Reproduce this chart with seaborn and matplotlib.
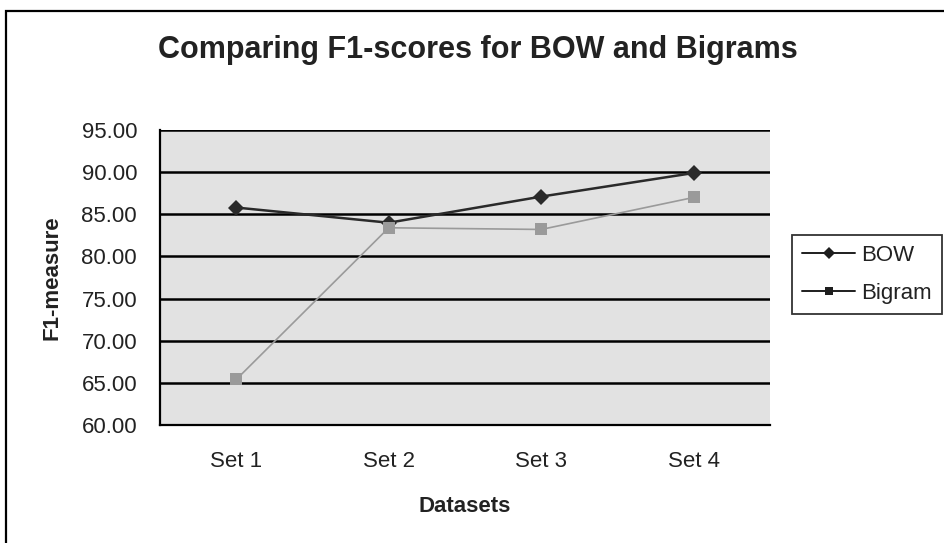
import matplotlib
matplotlib.use("Agg")
import matplotlib.pyplot as plt
from matplotlib.patches import Rectangle
import seaborn as sns
import pandas as pd
import numpy as np

categories = ["Set 1", "Set 2", "Set 3", "Set 4"]
bow = [85.8, 84.0, 87.1, 89.9]
bigram = [65.4, 83.4, 83.2, 87.0]
y_ticks = [60, 65, 70, 75, 80, 85, 90, 95]

df = pd.DataFrame({
    "pos": list(range(len(categories))) * 2,
    "score": bow + bigram,
    "series": ["BOW"] * len(bow) + ["Bigram"] * len(bigram),
})

sns.set_theme(style="white")
plt.rcParams["font.family"] = ["Liberation Sans", "DejaVu Sans"]

fig = plt.figure(figsize=(9.44, 5.43), dpi=100)
ax = fig.add_axes([160 / 944, 1 - 425 / 543, 610 / 944, 295 / 543])
ax.set_facecolor("#e2e2e2")

colors = {"BOW": "#2a2a2a", "Bigram": "#9a9a9a"}
sns.lineplot(
    data=df, x="pos", y="score", hue="series", style="series",
    palette=colors, markers={"BOW": "D", "Bigram": "s"}, dashes=False,
    markersize=8, linewidth=1.4, ax=ax, legend=False,
    markeredgewidth=0, zorder=3,
)
# the BOW line is drawn a little heavier than the Bigram line
for line in ax.get_lines():
    if line.get_color() == colors["BOW"]:
        line.set_linewidth(1.8)
    else:
        line.set_linewidth(1.2)

ax.set_xlim(-0.5, len(categories) - 0.5)
ax.set_ylim(60, 95)
ax.set_yticks(y_ticks)
ax.set_yticklabels([f"{v:.2f}" for v in y_ticks], fontsize=16, color="#222222")
ax.set_xticks(range(len(categories)))
ax.set_xticklabels(categories, fontsize=16, color="#222222")
ax.set_xticks(np.arange(-0.5, len(categories), 1.0), minor=True)
ax.tick_params(axis="x", which="major", length=0, pad=19)
ax.tick_params(axis="x", which="minor", length=6, width=1.2, color="black", direction="out")
ax.tick_params(axis="y", which="major", length=9, width=1.2, color="black", direction="inout", pad=12)

for y in y_ticks[1:]:
    ax.axhline(y, color="black", linewidth=1.8, zorder=1)

for side in ("top", "right"):
    ax.spines[side].set_visible(False)
for side in ("left", "bottom"):
    ax.spines[side].set_color("black")
    ax.spines[side].set_linewidth(1.6)

ax.set_xlabel("Datasets", fontsize=16, fontweight="bold", color="#222222", va="center")
ax.xaxis.set_label_coords(0.5, (425 - 506) / 295)
ax.set_ylabel("F1-measure", fontsize=16, fontweight="bold", color="#222222", va="center")
ax.yaxis.set_label_coords((52 - 160) / 610, 0.5)

fig.text(478 / 944, 1 - 58 / 543, "Comparing F1-scores for BOW and Bigrams",
         ha="center", va="baseline", fontsize=22, fontweight="bold", color="#222222")

handles = [
    plt.Line2D([], [], color="#1e1e1e", marker="D", markersize=6, lw=1.4, markeredgewidth=0),
    plt.Line2D([], [], color="#1e1e1e", marker="s", markersize=6, lw=1.4, markeredgewidth=0),
]
leg = fig.legend(handles, ["BOW", "Bigram"], loc="upper left",
                 bbox_to_anchor=(792 / 944, 1 - 235 / 543), fontsize=16,
                 frameon=True, fancybox=False, handlelength=2.4,
                 handletextpad=0.25, borderpad=0.45, labelspacing=0.75,
                 borderaxespad=0)
leg.get_frame().set_edgecolor("black")
leg.get_frame().set_linewidth(1.3)
for t in leg.get_texts():
    t.set_color("#222222")

fig.patches.append(Rectangle((6 / 944, -0.05), 1.0, 1.05 - 11 / 543,
                             transform=fig.transFigure, fill=False,
                             edgecolor="black", linewidth=1.6))

fig.savefig("out.png", dpi=100)
